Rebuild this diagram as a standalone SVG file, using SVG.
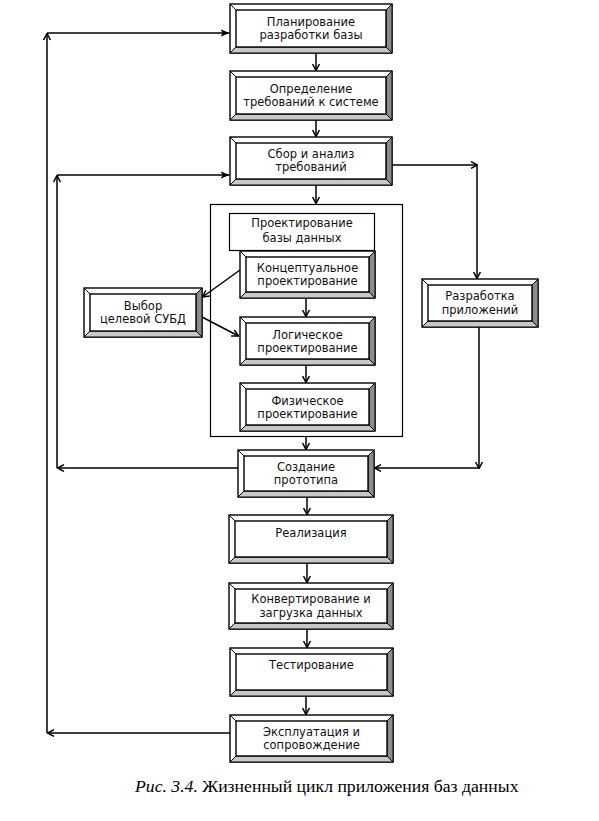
<svg xmlns="http://www.w3.org/2000/svg" width="599" height="821" viewBox="0 0 599 821">
<style>
.o{fill:#fff;stroke:#000;stroke-width:1.4}
.r{fill:#8c8c8c;stroke:#000;stroke-width:1}
.b{fill:#c8c8c8;stroke:#000;stroke-width:1}
.i{fill:#fff;stroke:#000;stroke-width:1.4}
.d{fill:none;stroke:#000;stroke-width:1}
.p{fill:#fff;stroke:#000;stroke-width:1.2}
.t{font-family:"DejaVu Sans",sans-serif;font-size:11.5px;text-anchor:middle;fill:#111}
.c path{fill:none;stroke:#000;stroke-width:1.5;marker-end:url(#a)}
.c path.f{marker-end:url(#f)}
.cap{font-family:"Liberation Serif","Times New Roman",serif;font-size:17.7px;fill:#000}
</style>
<defs>
<marker id="a" viewBox="0 0 8 8" refX="7.5" refY="4" markerWidth="8" markerHeight="8" orient="auto" markerUnits="userSpaceOnUse">
<path d="M1,0.6 L7.5,4 L1,7.4" fill="none" stroke="#000" stroke-width="1.5"/>
</marker>
<marker id="f" viewBox="0 0 8 8" refX="8" refY="4" markerWidth="9" markerHeight="9" orient="auto" markerUnits="userSpaceOnUse">
<path d="M0,0.8 L8,4 L0,7.2 L2,4 Z" fill="#000"/>
</marker>
</defs>
<rect width="599" height="821" fill="#fff"/>

<g id="container"><rect class="p" x="210.5" y="204.5" width="192" height="232"/></g>

<g class="c" id="connectors">
<path d="M316,53 V70.5"/>
<path d="M316,120 V136.5"/>
<path d="M316,185 V203.5"/>
<path d="M306,298 V316.5"/>
<path d="M306,365 V382.5"/>
<path d="M306,437 V449.5"/>
<path d="M307,497 V514.5"/>
<path d="M307,563 V582.5"/>
<path d="M307,629 V647.5"/>
<path d="M306,696 V714.5"/>
<path d="M230,733 H47.5"/>
<path d="M47,733 V33.5"/>
<path class="f" d="M47,33 H229.5"/>
<path d="M238,468 H57.5"/>
<path d="M57,468 V175.5"/>
<path class="f" d="M57,175 H229.5"/>
<path d="M392,165 H477.5"/>
<path d="M477,165 V278.5"/>
<path d="M479,327 V468.5"/>
<path d="M479,468 H374.5"/>
<path d="M240,270 L202.5,297"/>
<path d="M202,317 L238.5,336"/>
</g>

<g id="n1">
<rect class="o" x="230" y="4" width="162" height="49"/>
<path class="r" d="M392,4 v49 l-6,-6 V10 z"/><path class="b" d="M230,53 h162 l-6,-6 H236 z"/>
<rect class="i" x="236" y="10" width="150" height="37"/>
<path class="d" d="M230,4 l6,6 M392,4 l-6,6 M230,53 l6,-6 M392,53 l-6,-6"/>
<text class="t" x="311" y="25.5">Планирование</text><text class="t" x="311" y="38.5">разработки базы</text>
</g>
<g id="n2">
<rect class="o" x="230" y="71" width="162" height="49"/>
<path class="r" d="M392,71 v49 l-6,-6 V77 z"/><path class="b" d="M230,120 h162 l-6,-6 H236 z"/>
<rect class="i" x="236" y="77" width="150" height="37"/>
<path class="d" d="M230,71 l6,6 M392,71 l-6,6 M230,120 l6,-6 M392,120 l-6,-6"/>
<text class="t" x="311" y="92.5">Определение</text><text class="t" x="311" y="105.5">требований к системе</text>
</g>
<g id="n3">
<rect class="o" x="230" y="137" width="162" height="48"/>
<path class="r" d="M392,137 v48 l-6,-6 V143 z"/><path class="b" d="M230,185 h162 l-6,-6 H236 z"/>
<rect class="i" x="236" y="143" width="150" height="36"/>
<path class="d" d="M230,137 l6,6 M392,137 l-6,6 M230,185 l6,-6 M392,185 l-6,-6"/>
<text class="t" x="311" y="158">Сбор и анализ</text><text class="t" x="311" y="171">требований</text>
</g>
<g id="hdr">
<rect class="p" x="229.5" y="213.5" width="145" height="37"/>
<text class="t" x="302" y="227">Проектирование</text><text class="t" x="302" y="242">базы данных</text>
</g>
<g id="n4">
<rect class="o" x="240" y="251" width="135" height="47"/>
<path class="r" d="M375,251 v47 l-6,-6 V257 z"/><path class="b" d="M240,298 h135 l-6,-6 H246 z"/>
<rect class="i" x="246" y="257" width="123" height="35"/>
<path class="d" d="M240,251 l6,6 M375,251 l-6,6 M240,298 l6,-6 M375,298 l-6,-6"/>
<text class="t" x="307.5" y="272">Концептуальное</text><text class="t" x="307.5" y="285">проектирование</text>
</g>
<g id="n5">
<rect class="o" x="240" y="317" width="135" height="48"/>
<path class="r" d="M375,317 v48 l-6,-6 V323 z"/><path class="b" d="M240,365 h135 l-6,-6 H246 z"/>
<rect class="i" x="246" y="323" width="123" height="36"/>
<path class="d" d="M240,317 l6,6 M375,317 l-6,6 M240,365 l6,-6 M375,365 l-6,-6"/>
<text class="t" x="307.5" y="338.5">Логическое</text><text class="t" x="307.5" y="351.5">проектирование</text>
</g>
<g id="n6">
<rect class="o" x="240" y="383" width="135" height="48"/>
<path class="r" d="M375,383 v48 l-6,-6 V389 z"/><path class="b" d="M240,431 h135 l-6,-6 H246 z"/>
<rect class="i" x="246" y="389" width="123" height="36"/>
<path class="d" d="M240,383 l6,6 M375,383 l-6,6 M240,431 l6,-6 M375,431 l-6,-6"/>
<text class="t" x="307.5" y="404.5">Физическое</text><text class="t" x="307.5" y="417.5">проектирование</text>
</g>
<g id="n7">
<rect class="o" x="84" y="288" width="118" height="49"/>
<path class="r" d="M202,288 v49 l-6,-6 V294 z"/><path class="b" d="M84,337 h118 l-6,-6 H90 z"/>
<rect class="i" x="90" y="294" width="106" height="37"/>
<path class="d" d="M84,288 l6,6 M202,288 l-6,6 M84,337 l6,-6 M202,337 l-6,-6"/>
<text class="t" x="143" y="309.5">Выбор</text><text class="t" x="143" y="322.5">целевой СУБД</text>
</g>
<g id="n8">
<rect class="o" x="422" y="279" width="116" height="48"/>
<path class="r" d="M538,279 v48 l-6,-6 V285 z"/><path class="b" d="M422,327 h116 l-6,-6 H428 z"/>
<rect class="i" x="428" y="285" width="104" height="36"/>
<path class="d" d="M422,279 l6,6 M538,279 l-6,6 M422,327 l6,-6 M538,327 l-6,-6"/>
<text class="t" x="480" y="300">Разработка</text><text class="t" x="480" y="313.5">приложений</text>
</g>
<g id="n9">
<rect class="o" x="238" y="450" width="136" height="47"/>
<path class="r" d="M374,450 v47 l-6,-6 V456 z"/><path class="b" d="M238,497 h136 l-6,-6 H244 z"/>
<rect class="i" x="244" y="456" width="124" height="35"/>
<path class="d" d="M238,450 l6,6 M374,450 l-6,6 M238,497 l6,-6 M374,497 l-6,-6"/>
<text class="t" x="306" y="471">Создание</text><text class="t" x="306" y="484">прототипа</text>
</g>
<g id="n10">
<rect class="o" x="229" y="515" width="164" height="48"/>
<path class="r" d="M393,515 v48 l-6,-6 V521 z"/><path class="b" d="M229,563 h164 l-6,-6 H235 z"/>
<rect class="i" x="235" y="521" width="152" height="36"/>
<path class="d" d="M229,515 l6,6 M393,515 l-6,6 M229,563 l6,-6 M393,563 l-6,-6"/>
<text class="t" x="311" y="536.5">Реализация</text>
</g>
<g id="n11">
<rect class="o" x="229" y="583" width="164" height="46"/>
<path class="r" d="M393,583 v46 l-6,-6 V589 z"/><path class="b" d="M229,629 h164 l-6,-6 H235 z"/>
<rect class="i" x="235" y="589" width="152" height="34"/>
<path class="d" d="M229,583 l6,6 M393,583 l-6,6 M229,629 l6,-6 M393,629 l-6,-6"/>
<text class="t" x="311" y="603">Конвертирование и</text><text class="t" x="311" y="616.5">загрузка данных</text>
</g>
<g id="n12">
<rect class="o" x="230" y="648" width="163" height="48"/>
<path class="r" d="M393,648 v48 l-6,-6 V654 z"/><path class="b" d="M230,696 h163 l-6,-6 H236 z"/>
<rect class="i" x="236" y="654" width="151" height="36"/>
<path class="d" d="M230,648 l6,6 M393,648 l-6,6 M230,696 l6,-6 M393,696 l-6,-6"/>
<text class="t" x="311.5" y="669">Тестирование</text>
</g>
<g id="n13">
<rect class="o" x="230" y="715" width="163" height="47"/>
<path class="r" d="M393,715 v47 l-6,-6 V721 z"/><path class="b" d="M230,762 h163 l-6,-6 H236 z"/>
<rect class="i" x="236" y="721" width="151" height="35"/>
<path class="d" d="M230,715 l6,6 M393,715 l-6,6 M230,762 l6,-6 M393,762 l-6,-6"/>
<text class="t" x="311.5" y="735.5">Эксплуатация и</text><text class="t" x="311.5" y="748.5">сопровождение</text>
</g>

<g id="caption">
<text class="cap" x="135" y="792"><tspan font-style="italic">Рис. 3.4.</tspan> Жизненный цикл приложения баз данных</text>
</g>
</svg>
